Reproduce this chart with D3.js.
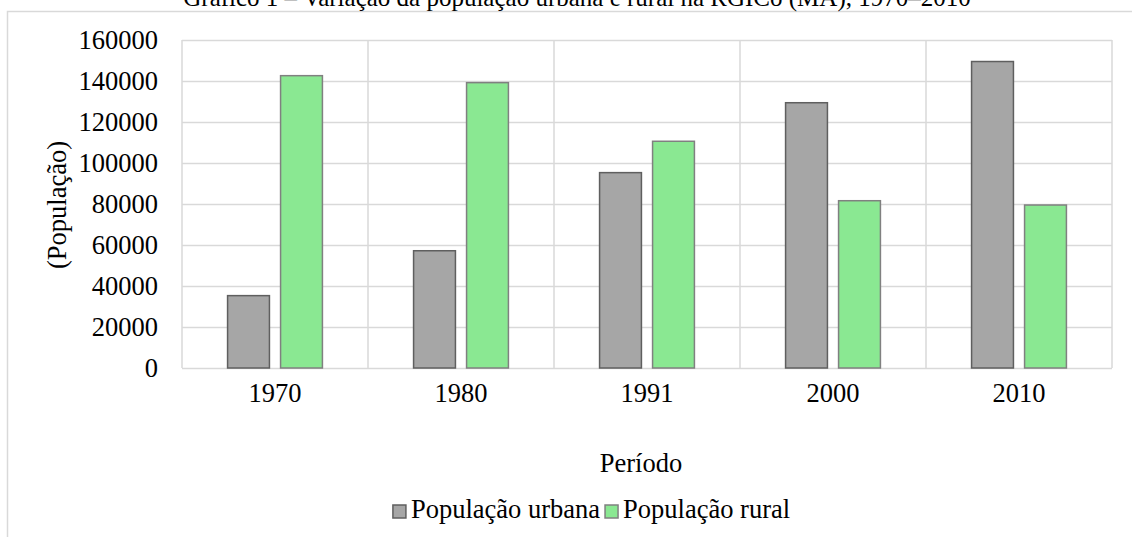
<!DOCTYPE html>
<html>
<head>
<meta charset="utf-8">
<script src="https://cdn.jsdelivr.net/npm/d3@7"></script>
<style>
  body { margin: 0; background: #fff; }
</style>
</head>
<body>
<svg id="chart"></svg>
<script>
// chart data
const periods = ["1970", "1980", "1991", "2000", "2010"];
const seriesNames = ["População urbana", "População rural"];
const urbana = [35300, 57200, 95300, 129400, 149500];
const rural = [142600, 139200, 110600, 81600, 79500];
const yTicks = [0, 20000, 40000, 60000, 80000, 100000, 120000, 140000, 160000];
const colors = { "População urbana": "#a6a6a6", "População rural": "#8ae892" };
const strokes = { "População urbana": "#5f5f5f", "População rural": "#808080" };

const W = 1132, H = 537;
const margin = { top: 40, right: 20, bottom: 169, left: 182 };
const width = W - margin.left - margin.right;
const height = H - margin.top - margin.bottom;
const fontSize = 26.5;
const serif = "'Liberation Serif', 'Times New Roman', serif";

const svg = d3.select("#chart").attr("width", W).attr("height", H)
  .attr("font-family", serif);

// outer chart border (only top and left visible)
svg.append("path")
  .attr("d", "M7.5,537 V11.5 H1132")
  .attr("fill", "none")
  .attr("stroke", "#d9d9d9")
  .attr("stroke-width", 1.5);

// title, mostly cut off at the top
svg.append("text")
  .attr("x", 577)
  .attr("y", 6)
  .attr("text-anchor", "middle")
  .style("font-family", serif)
  .style("font-size", "25px")
  .text("Gráfico 1 – Variação da população urbana e rural na RGICo (MA), 1970–2010");

const g = svg.append("g")
  .attr("transform", "translate(" + margin.left + "," + margin.top + ")");

const x0 = d3.scaleBand().domain(periods).range([0, width]).padding(0);
const x1 = d3.scaleBand().domain(seriesNames).range([0, x0.bandwidth()])
  .paddingInner(0.21).paddingOuter(0.86);
const y = d3.scaleLinear().domain([0, 160000]).range([height, 0]);

// horizontal gridlines
g.append("g")
  .call(d3.axisLeft(y).tickValues(yTicks).tickSize(-width).tickFormat(""))
  .call(a => a.select(".domain").remove())
  .call(a => a.selectAll("line").attr("stroke", "#d9d9d9").attr("stroke-width", 1.5));

// vertical gridlines at category edges
g.append("g").selectAll("line")
  .data(periods.concat(["end"]))
  .enter().append("line")
  .attr("x1", d => d === "end" ? width : x0(d))
  .attr("x2", d => d === "end" ? width : x0(d))
  .attr("y1", 0)
  .attr("y2", height)
  .attr("stroke", "#d9d9d9")
  .attr("stroke-width", 1.5);

// bars
const rows = periods.map((p, i) => ({ period: p, values: [
  { name: seriesNames[0], value: urbana[i] },
  { name: seriesNames[1], value: rural[i] }
] }));

g.append("g").selectAll("g")
  .data(rows)
  .enter().append("g")
  .attr("transform", d => "translate(" + x0(d.period) + ",0)")
  .selectAll("rect")
  .data(d => d.values)
  .enter().append("rect")
  .attr("x", d => x1(d.name))
  .attr("y", d => y(d.value))
  .attr("width", x1.bandwidth())
  .attr("height", d => height - y(d.value))
  .attr("fill", d => colors[d.name])
  .attr("stroke", d => strokes[d.name])
  .attr("stroke-width", 1.5);

// y axis labels
g.append("g")
  .call(d3.axisLeft(y).tickValues(yTicks).tickSize(0).tickPadding(24).tickFormat(d3.format("d")))
  .attr("font-family", serif)
  .call(a => a.select(".domain").remove())
  .call(a => a.selectAll("text").style("font-family", serif)
    .style("font-size", fontSize + "px").attr("fill", "#000"));

// x axis labels
g.append("g")
  .attr("transform", "translate(0," + height + ")")
  .call(d3.axisBottom(x0).tickSize(0).tickPadding(15))
  .attr("font-family", serif)
  .call(a => a.select(".domain").remove())
  .call(a => a.selectAll("text").style("font-family", serif)
    .style("font-size", fontSize + "px").attr("fill", "#000"));

// axis titles
svg.append("text")
  .attr("transform", "translate(66,205) rotate(-90)")
  .attr("text-anchor", "middle")
  .style("font-family", serif)
  .style("font-size", fontSize + "px")
  .text("(População)");

svg.append("text")
  .attr("x", 641)
  .attr("y", 472)
  .attr("text-anchor", "middle")
  .style("font-family", serif)
  .style("font-size", fontSize + "px")
  .text("Período");

// legend
const legend = svg.append("g");
let lx = 0;
seriesNames.forEach(name => {
  const item = legend.append("g").attr("transform", "translate(" + lx + ",0)");
  item.append("rect")
    .attr("x", 0).attr("y", -13)
    .attr("width", 13).attr("height", 13)
    .attr("fill", colors[name])
    .attr("stroke", strokes[name])
    .attr("stroke-width", 1.5);
  const t = item.append("text")
    .attr("x", 18)
    .style("font-family", serif)
    .style("font-size", fontSize + "px")
    .text(name);
  lx += 18 + t.node().getComputedTextLength() + 5;
});
legend.attr("transform", "translate(" + (594 - lx / 2) + ",518)");
</script>
</body>
</html>
